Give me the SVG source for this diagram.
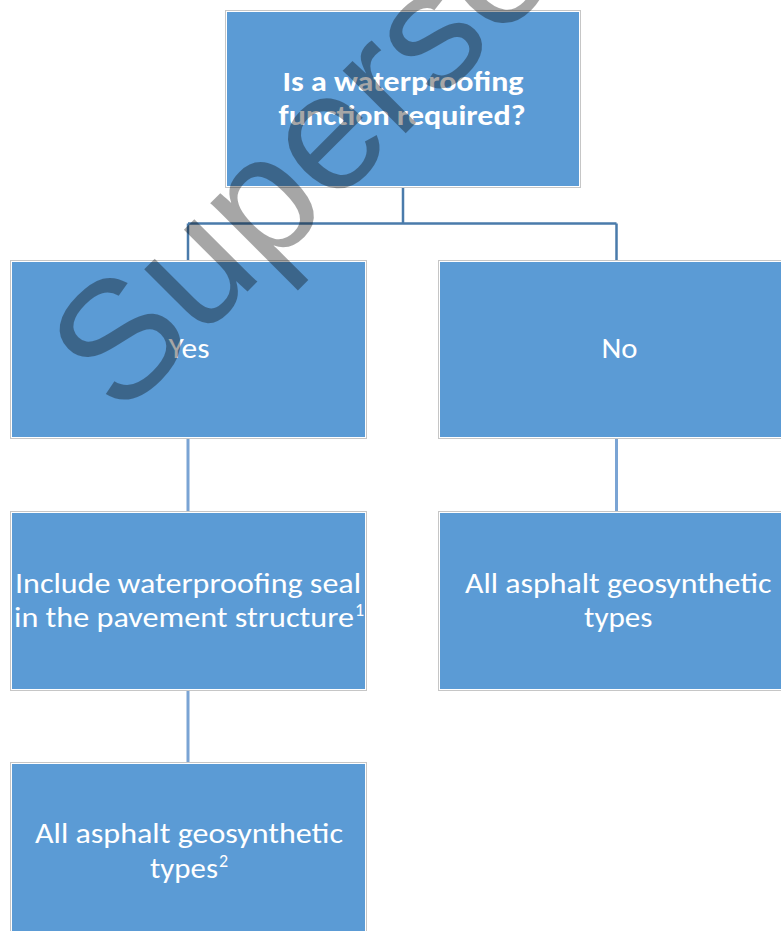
<svg xmlns="http://www.w3.org/2000/svg" width="781" height="931" viewBox="0 0 781 931">
<style>
.frame{fill:#ffffff;stroke:#c6c6c6;stroke-width:1}
.box{fill:#5B9BD5}
.t{font-family:Carlito,'Liberation Sans Narrow','Liberation Sans',sans-serif;font-size:29px;fill:#ffffff}
.b{font-weight:bold}
.sup{font-family:Carlito,'Liberation Sans Narrow','Liberation Sans',sans-serif;font-size:18px;fill:#ffffff}
.c1{fill:none;stroke:#4a7bab;stroke-width:2.5}
.c2{fill:none;stroke:#7aa4d4;stroke-width:3}
.wm{font-family:'Liberation Sans',Arial,sans-serif;font-size:168px;fill:#000000;fill-opacity:0.35}
</style>
<g id="connectors">
<path class="c1" d="M403 187.5V223.5M188 223.5H616.5M188 223.5V260.5M616.5 223.5V260.5"/>
<path class="c2" d="M188 439V511.5M188 690.5V762.5M616.5 439V511.5"/>
</g>
<g id="n-question">
<rect class="frame" x="225.5" y="10.5" width="355" height="177"/>
<rect class="box" x="227" y="12" width="352" height="174"/>
<text class="t b" x="282.5" y="91" textLength="241" lengthAdjust="spacingAndGlyphs">Is a waterproofing</text>
<text class="t b" x="278.5" y="125" textLength="247" lengthAdjust="spacingAndGlyphs">function required?</text>
</g>
<g id="n-yes">
<rect class="frame" x="10.5" y="260.5" width="356" height="178"/>
<rect class="box" x="12" y="262" width="353" height="175"/>
<text class="t" x="168.5" y="358" textLength="41" lengthAdjust="spacingAndGlyphs">Yes</text>
</g>
<g id="n-no">
<rect class="frame" x="438.5" y="260.5" width="356" height="178"/>
<rect class="box" x="440" y="262" width="353" height="175"/>
<text class="t" x="601.5" y="358" textLength="36" lengthAdjust="spacingAndGlyphs">No</text>
</g>
<g id="n-include">
<rect class="frame" x="10.5" y="511.5" width="356" height="179"/>
<rect class="box" x="12" y="513" width="353" height="176"/>
<text class="t" x="15" y="593" textLength="346" lengthAdjust="spacingAndGlyphs">Include waterproofing seal</text>
<text class="t" x="14" y="627" textLength="340" lengthAdjust="spacingAndGlyphs">in the pavement structure</text>
<text class="sup" x="355" y="616">1</text>
</g>
<g id="n-all-right">
<rect class="frame" x="438.5" y="511.5" width="356" height="179"/>
<rect class="box" x="440" y="513" width="353" height="176"/>
<text class="t" x="465" y="593" textLength="306.5" lengthAdjust="spacingAndGlyphs">All asphalt geosynthetic</text>
<text class="t" x="584" y="627" textLength="68.5" lengthAdjust="spacingAndGlyphs">types</text>
</g>
<g id="n-all-left">
<rect class="frame" x="10.5" y="762.5" width="356" height="179"/>
<rect class="box" x="12" y="764" width="353" height="176"/>
<text class="t" x="35" y="843" textLength="308" lengthAdjust="spacingAndGlyphs">All asphalt geosynthetic</text>
<text class="t" x="150" y="878" textLength="68" lengthAdjust="spacingAndGlyphs">types</text>
<text class="sup" x="219" y="867">2</text>
</g>
<text class="wm" transform="translate(120 419) rotate(-45)">Superseded</text>
</svg>
